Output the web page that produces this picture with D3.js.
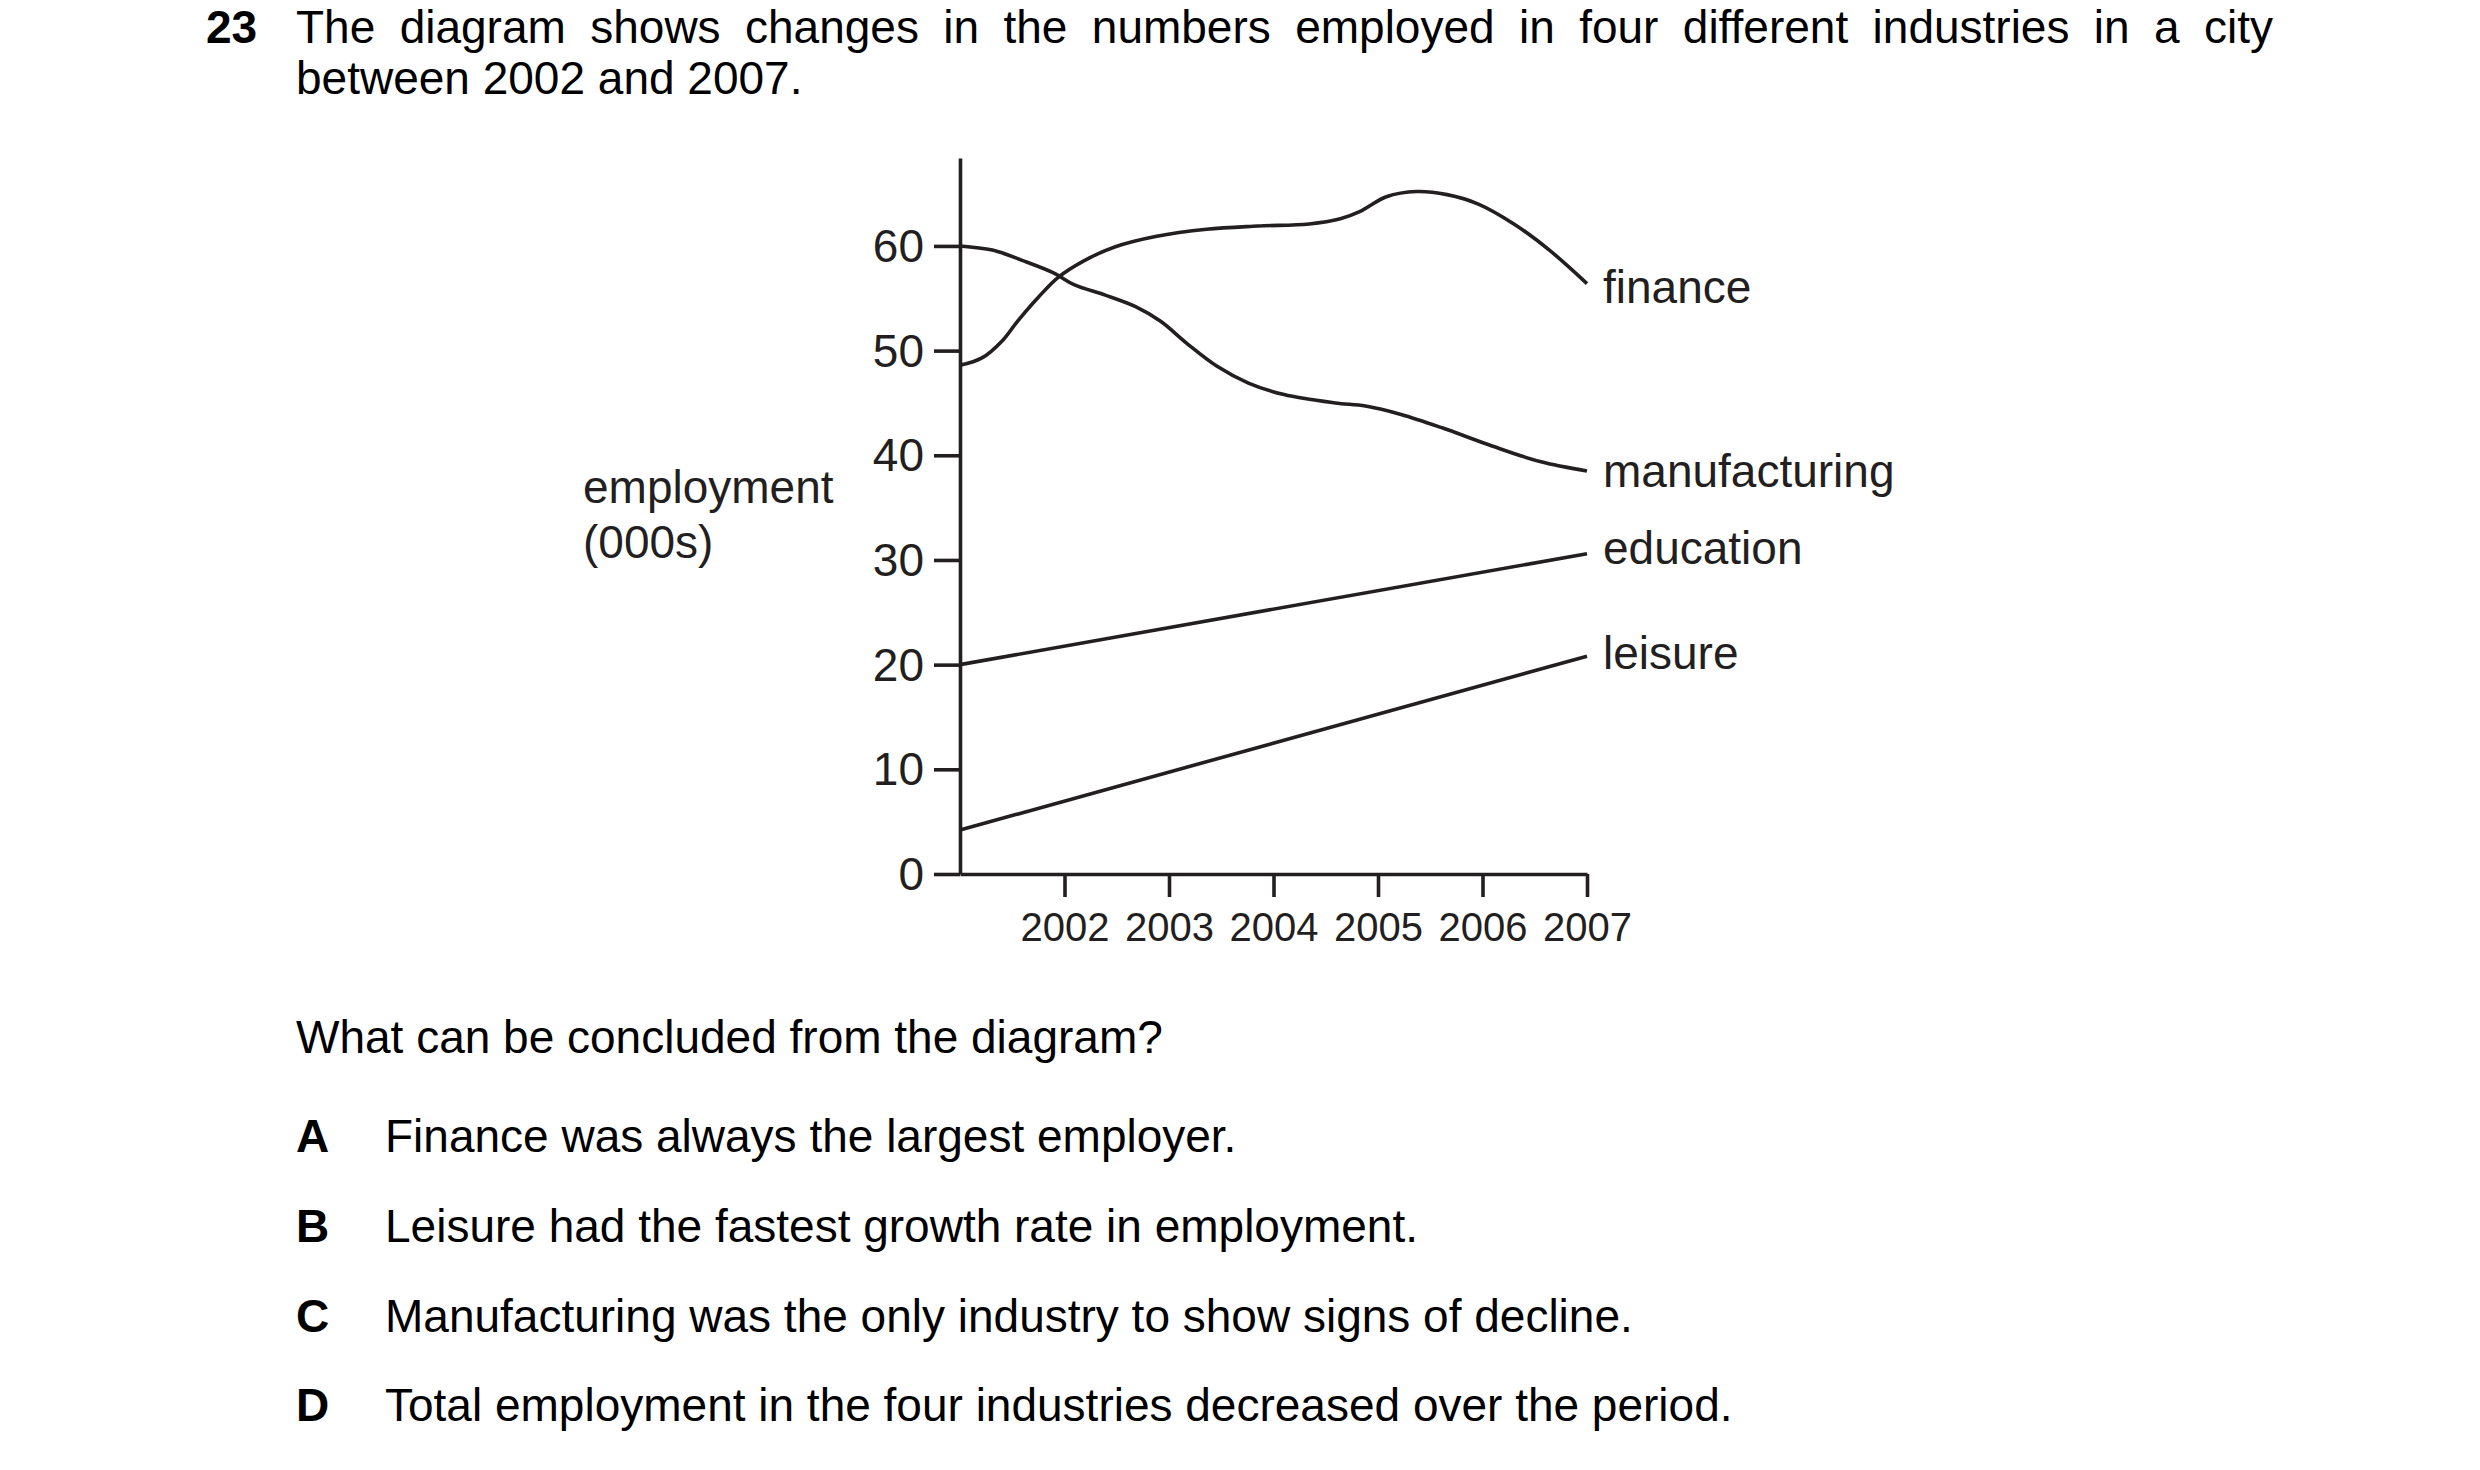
<!DOCTYPE html>
<html>
<head>
<meta charset="utf-8">
<script src="https://cdn.jsdelivr.net/npm/d3@7"></script>
<style>
body { margin: 0; background: #fff; }
text { font-family: "Liberation Sans", Arial, Helvetica, sans-serif; }
</style>
</head>
<body>
<svg id="chart" width="2480" height="1470"></svg>
<script>
// values: [year, thousands employed]
const years = [2002, 2003, 2004, 2005, 2006, 2007]
const yTicks = [0, 10, 20, 30, 40, 50, 60]

const finance = [
    [2001.00, 48.6], [2001.21, 49.3], [2001.41, 51.0], [2001.55, 52.8], [2001.75, 55.1],
    [2001.94, 57.0], [2002.19, 58.6], [2002.48, 59.9], [2002.87, 60.9], [2003.36, 61.6],
    [2003.85, 61.9], [2004.34, 62.1], [2004.64, 62.6], [2004.83, 63.3], [2005.08, 64.7],
    [2005.37, 65.2], [2005.66, 64.9], [2005.96, 64.0], [2006.30, 62.1], [2006.64, 59.6],
    [2007.00, 56.4]
]
const manufacturing = [
    [2001.00, 60.0], [2001.31, 59.6], [2001.60, 58.6], [2001.90, 57.4], [2002.09, 56.3],
    [2002.39, 55.3], [2002.68, 54.2], [2002.92, 52.8], [2003.17, 50.7], [2003.46, 48.5],
    [2003.76, 46.9], [2004.10, 45.8], [2004.59, 45.0], [2004.88, 44.7], [2005.22, 43.9],
    [2005.62, 42.6], [2006.06, 41.0], [2006.55, 39.4], [2007.00, 38.5]
]
const education = [[2001, 20.0], [2007, 30.6]]
const leisure = [[2001, 4.2], [2007, 20.8]]

const seriesNames = ['finance', 'manufacturing', 'education', 'leisure']
const seriesData = [finance, manufacturing, education, leisure]

const titleNumber = '23'
const titleLine1 = 'The diagram shows changes in the numbers employed in four different industries in a city'
const titleLine2 = 'between 2002 and 2007.'
const yLabel = ['employment', '(000s)']
const question = 'What can be concluded from the diagram?'
const optionLetters = ['A', 'B', 'C', 'D']
const optionTexts = [
    'Finance was always the largest employer.',
    'Leisure had the fastest growth rate in employment.',
    'Manufacturing was the only industry to show signs of decline.',
    'Total employment in the four industries decreased over the period.'
]

const ink = '#231f20'
const fs = 46
// small vertical nudges for the end labels (px)
const labelNudge = [4, 0, -5, -3]

const svg = d3.select('#chart')

// ---- question header (justified first line)
svg.append('text')
    .attr('x', 206).attr('y', 43)
    .attr('font-size', fs).attr('font-weight', 'bold')
    .text(titleNumber)

function justified(str, x0, x1, yb) {
    let words = str.split(' ')
    let g = svg.append('g').attr('font-size', fs)
    let nodes = words.map(w => g.append('text').attr('y', yb).text(w))
    let widths = nodes.map(n => n.node().getComputedTextLength())
    let gap = (x1 - x0 - d3.sum(widths)) / (words.length - 1)
    let x = x0
    nodes.forEach((n, i) => {
        n.attr('x', x)
        x += widths[i] + gap
    })
}
justified(titleLine1, 296, 2273, 43)
svg.append('text')
    .attr('x', 296).attr('y', 94)
    .attr('font-size', fs)
    .text(titleLine2)

// ---- chart
let x = d3.scaleLinear()
    .domain([2001, 2007])
    .range([960, 1587])
let y = d3.scaleLinear()
    .domain([0, 68.4])
    .range([874, 158])

let xAxis = svg.append('g')
    .attr('transform', 'translate(0,' + y(0) + ')')
    .call(d3.axisBottom(x).tickValues(years).tickFormat(d3.format('d'))
        .tickSize(23).tickSizeOuter(0).tickPadding(16))
xAxis.selectAll('text').attr('font-size', 40)

let yAxis = svg.append('g')
    .attr('transform', 'translate(' + x(2001) + ',0)')
    .call(d3.axisLeft(y).tickValues(yTicks)
        .tickSize(26).tickSizeOuter(0).tickPadding(10))
yAxis.selectAll('text').attr('font-size', fs).attr('dy', '0.34em')

svg.selectAll('.domain, .tick line')
    .attr('stroke', ink)
    .attr('stroke-width', 3.6)
svg.selectAll('.tick text').attr('fill', ink)
svg.selectAll('g').filter(function () { return this.getAttribute('font-family') })
    .attr('font-family', null)

let line = d3.line()
    .x(d => x(d[0]))
    .y(d => y(d[1]))
    .curve(d3.curveCatmullRom.alpha(0.5))

svg.append('g')
    .selectAll('path')
    .data(seriesData)
    .join('path')
    .attr('d', line)
    .attr('fill', 'none')
    .attr('stroke', ink)
    .attr('stroke-width', 3.6)
    .attr('stroke-linejoin', 'round')

svg.append('g')
    .selectAll('text')
    .data(seriesData)
    .join('text')
    .attr('x', d => x(d[d.length - 1][0]) + 16)
    .attr('y', (d, i) => y(d[d.length - 1][1]) + labelNudge[i])
    .attr('dy', '0.34em')
    .attr('font-size', fs)
    .attr('fill', ink)
    .text((d, i) => seriesNames[i])

svg.append('g')
    .selectAll('text')
    .data(yLabel)
    .join('text')
    .attr('x', 583)
    .attr('y', (d, i) => 503 + i * 55)
    .attr('font-size', fs)
    .attr('fill', ink)
    .text(d => d)

// ---- question and options
svg.append('text')
    .attr('x', 296).attr('y', 1053)
    .attr('font-size', fs)
    .text(question)

let opts = svg.append('g')
    .selectAll('g')
    .data(optionLetters)
    .join('g')
    .attr('transform', (d, i) => 'translate(0,' + (1152 + i * 89.8) + ')')
opts.append('text')
    .attr('x', 296)
    .attr('font-size', fs).attr('font-weight', 'bold')
    .text(d => d)
opts.append('text')
    .attr('x', 385)
    .attr('font-size', fs)
    .text((d, i) => optionTexts[i])
</script>
</body>
</html>
